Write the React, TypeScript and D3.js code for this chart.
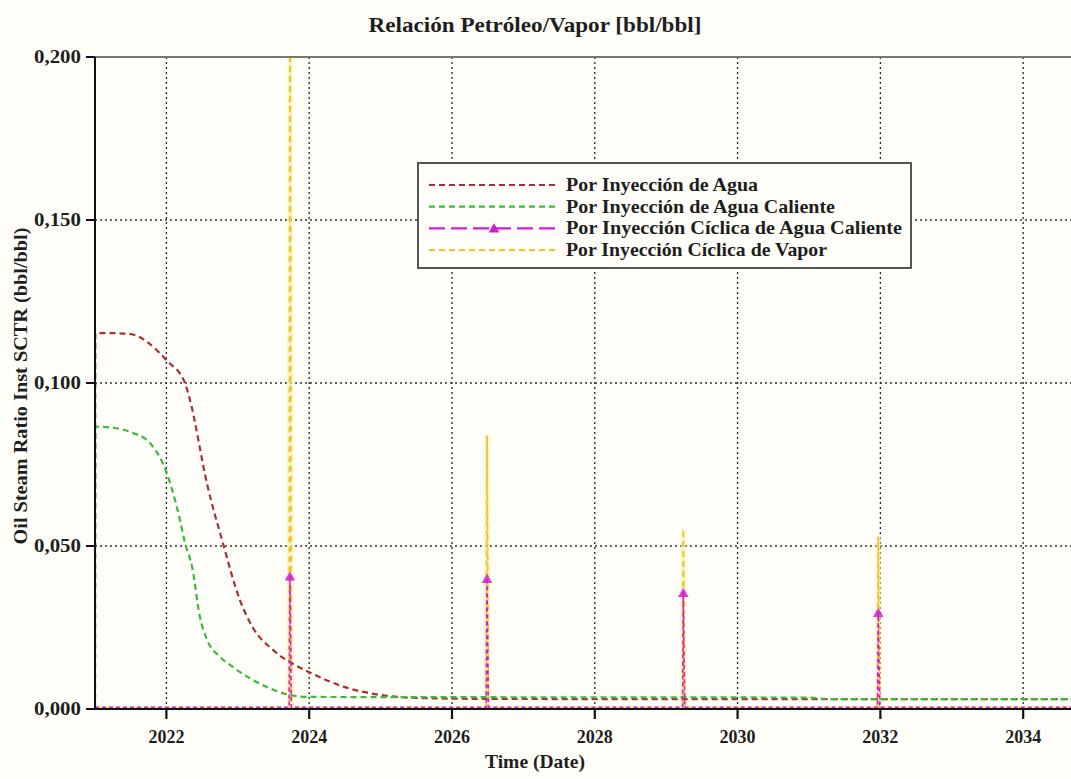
import React from "react";
import * as d3 from "d3";

// ---------- data (decimal years, bbl/bbl) ----------
const xTicks = [2022, 2024, 2026, 2028, 2030, 2032, 2034];
const yTicks = [0, 0.05, 0.1, 0.15, 0.2];

const aguaSeries: [number, number][] = [
  [2021.0, 0], [2021.005, 0.1153], [2021.2, 0.1153], [2021.5, 0.115], [2021.73, 0.1126],
  [2022.0, 0.107], [2022.26, 0.1], [2022.33, 0.0948], [2022.57, 0.069], [2022.79, 0.051],
  [2023.03, 0.0334], [2023.21, 0.025], [2023.5, 0.018], [2023.8, 0.0135], [2024.0, 0.0113],
  [2024.5, 0.0067], [2025.0, 0.0043], [2025.5, 0.0034], [2026.5, 0.0031], [2030.0, 0.003],
  [2034.7, 0.003],
];

const aguaCalienteSeries: [number, number][] = [
  [2021.0, 0], [2021.005, 0.0866], [2021.2, 0.0864], [2021.53, 0.0847], [2021.77, 0.0816],
  [2022.0, 0.0727], [2022.18, 0.0589], [2022.26, 0.051], [2022.36, 0.0436], [2022.47, 0.0282],
  [2022.57, 0.0212], [2022.75, 0.016], [2022.93, 0.0129], [2023.41, 0.0067], [2023.73, 0.0043],
  [2024.0, 0.0037], [2031.0, 0.0035], [2031.3, 0.003], [2034.7, 0.003],
];

const ciclicaAguaSeries: [number, number][] = [
  [2021.0, 0.0005], [2023.72, 0.0005], [2023.73, 0.041], [2023.75, 0.0005],
  [2026.48, 0.0005], [2026.49, 0.0402], [2026.51, 0.0005],
  [2029.23, 0.0005], [2029.24, 0.0359], [2029.26, 0.0005],
  [2031.96, 0.0005], [2031.97, 0.0298], [2031.99, 0.0005], [2034.7, 0.0005],
];
const ciclicaAguaPeaks: [number, number][] = [
  [2023.73, 0.041], [2026.49, 0.0402], [2029.24, 0.0359], [2031.97, 0.0298],
];

const ciclicaVaporSeries: [number, number][] = [
  [2021.0, 0.0002], [2023.72, 0.0002], [2023.73, 0.25], [2023.75, 0.0002],
  [2026.48, 0.0002], [2026.49, 0.084], [2026.51, 0.0002],
  [2029.23, 0.0002], [2029.24, 0.0552], [2029.26, 0.0002],
  [2031.96, 0.0002], [2031.97, 0.0528], [2031.99, 0.0002], [2034.7, 0.0002],
];

const legendLabels = [
  "Por Inyección de Agua",
  "Por Inyección de Agua Caliente",
  "Por Inyección Cíclica de Agua Caliente",
  "Por Inyección Cíclica de Vapor",
];

// ---------- styles ----------
const W = 1071, H = 779;
const M = { left: 95, right: 1071, top: 57, bottom: 709 };
const FONT = "'Liberation Serif', 'Times New Roman', serif";
const TXT = "#1e1e1e";
const RED = "#a8302e";
const GREEN = "#3cba3c";
const MAGENTA = "#d21ed2";
const YELLOW = "#e9c630";
const legendWidths = [192, 269, 336, 261];

export default function App() {
  const x = d3.scaleLinear().domain([2021.0, 2034.67]).range([M.left, M.right]);
  const y = d3.scaleLinear().domain([0, 0.2]).range([M.bottom, M.top]);
  const smooth = d3.line<[number, number]>().x((d) => x(d[0])).y((d) => y(d[1])).curve(d3.curveMonotoneX);
  const straight = d3.line<[number, number]>().x((d) => x(d[0])).y((d) => y(d[1]));
  const fmt = (v: number) => d3.format(".3f")(v).replace(".", ",");
  const tri = d3.symbol().type(d3.symbolTriangle).size(50)() as string;

  const legendStyles = [
    { color: RED, dash: "6,4" },
    { color: GREEN, dash: "6,4" },
    { color: MAGENTA, dash: "16,6", marker: true },
    { color: YELLOW, dash: "6,4" },
  ];

  return (
    <svg
      width={W}
      height={H}
      style={{ position: "absolute", left: 0, top: 0, background: "#fffef8" }}
    >
      <defs>
        <clipPath id="plotclip">
          <rect x={M.left} y={M.top} width={M.right - M.left} height={M.bottom - M.top} />
        </clipPath>
      </defs>
      {/* title */}
      <text x={535} y={32} textAnchor="middle" fontFamily={FONT} fontWeight="bold" fontSize={21} fill={TXT}
        textLength={333} lengthAdjust="spacingAndGlyphs">
        Relación Petróleo/Vapor [bbl/bbl]
      </text>

      {/* grid */}
      {xTicks.map((t) => (
        <line key={"gx" + t} x1={x(t)} x2={x(t)} y1={M.top} y2={M.bottom} stroke="#222" strokeWidth={1.3} strokeDasharray="2,3" />
      ))}
      {yTicks.filter((t) => t > 0 && t < 0.2).map((t) => (
        <line key={"gy" + t} x1={M.left} x2={M.right} y1={y(t)} y2={y(t)} stroke="#333" strokeWidth={1.3} strokeDasharray="2,3" />
      ))}

      {/* series */}
      <g clipPath="url(#plotclip)">
        <path d={straight(ciclicaVaporSeries) || ""} fill="none" stroke="#fbf0b0" strokeWidth={5} strokeOpacity={0.6} />
        <path d={straight(ciclicaVaporSeries) || ""} fill="none" stroke={YELLOW} strokeWidth={1.8} strokeDasharray="6,4" />
        <path d={smooth(aguaSeries) || ""} fill="none" stroke={RED} strokeWidth={2.2} strokeDasharray="6,4" />
        <path d={smooth(aguaCalienteSeries) || ""} fill="none" stroke={GREEN} strokeWidth={2.2} strokeDasharray="6,4" />
        <path d={straight(ciclicaAguaSeries) || ""} fill="none" stroke={MAGENTA} strokeWidth={1.6} strokeDasharray="4,3" />
        {ciclicaAguaPeaks.map((p, i) => (
          <path key={"m" + i} d={tri} transform={`translate(${x(p[0])},${y(p[1]) + 2})`} fill={MAGENTA} fillOpacity={0.85} />
        ))}
      </g>

      {/* axes */}
      <line x1={M.left} x2={M.right} y1={M.top} y2={M.top} stroke="#777" strokeWidth={2} />
      <line x1={M.left} x2={M.left} y1={M.top} y2={M.bottom + 1} stroke="#111" strokeWidth={2} />
      <line x1={M.left} x2={M.right} y1={M.bottom} y2={M.bottom} stroke="#111" strokeWidth={2} />
      {yTicks.map((t) => (
        <g key={"yt" + t}>
          <line x1={M.left - 9} x2={M.left} y1={y(t)} y2={y(t)} stroke="#111" strokeWidth={2} />
          <text x={81} y={y(t) + 6} textAnchor="end" fontFamily={FONT} fontWeight="bold" fontSize={18} fill={TXT}
            textLength={47} lengthAdjust="spacingAndGlyphs">
            {fmt(t)}
          </text>
        </g>
      ))}
      {xTicks.map((t) => (
        <g key={"xt" + t}>
          <line x1={x(t)} x2={x(t)} y1={M.bottom} y2={M.bottom + 10} stroke="#111" strokeWidth={2.2} />
          <text x={x(t)} y={743} textAnchor="middle" fontFamily={FONT} fontWeight="bold" fontSize={18} fill={TXT}
            textLength={36} lengthAdjust="spacingAndGlyphs">
            {t}
          </text>
        </g>
      ))}
      <text x={535} y={768} textAnchor="middle" fontFamily={FONT} fontWeight="bold" fontSize={19} fill={TXT}
        textLength={100} lengthAdjust="spacingAndGlyphs">
        Time (Date)
      </text>
      <text
        transform={`translate(27,386) rotate(-90)`}
        textAnchor="middle"
        fontFamily={FONT}
        fontWeight="bold"
        fontSize={19}
        fill={TXT}
        textLength={317}
        lengthAdjust="spacingAndGlyphs"
      >
        Oil Steam Ratio Inst SCTR (bbl/bbl)
      </text>

      {/* legend */}
      <g>
        <rect x={418} y={163} width={493} height={105} fill="#fffef8" stroke="#555" strokeWidth={2} />
        {legendLabels.map((lab, i) => {
          const ly = 185 + i * 21.7;
          const st = legendStyles[i];
          return (
            <g key={"lg" + i}>
              <line x1={429} x2={557} y1={ly} y2={ly} stroke={st.color} strokeWidth={2.2} strokeDasharray={st.dash} />
              {st.marker && <path d={tri} transform={`translate(494,${ly + 1})`} fill={MAGENTA} />}
              <text x={566} y={ly + 6} fontFamily={FONT} fontWeight="bold" fontSize={19} fill={TXT}
                textLength={legendWidths[i]} lengthAdjust="spacingAndGlyphs">
                {lab}
              </text>
            </g>
          );
        })}
      </g>
    </svg>
  );
}
